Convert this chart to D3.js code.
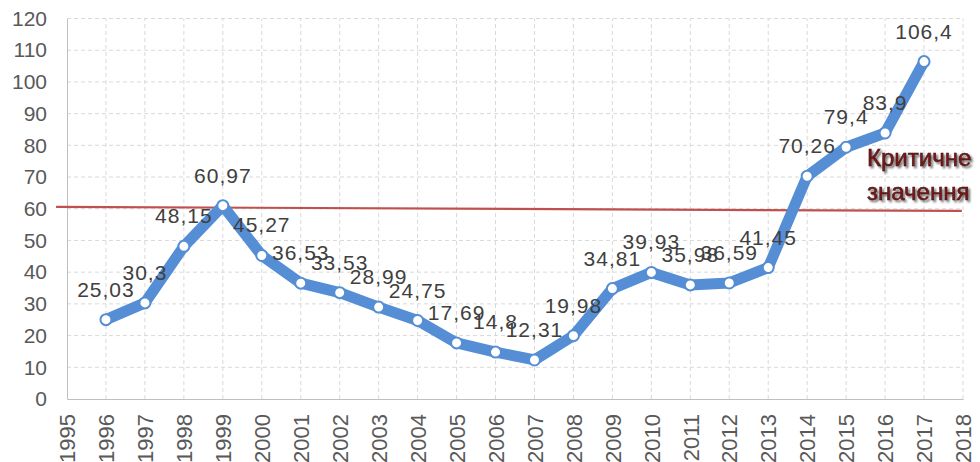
<!DOCTYPE html>
<html><head><meta charset="utf-8">
<script src="https://cdn.jsdelivr.net/npm/d3@7"></script>
<style>body{margin:0;background:#fff}svg{display:block}</style>
</head><body>
<svg id="c" width="980" height="462"></svg>
<script>
const years = [1996,1997,1998,1999,2000,2001,2002,2003,2004,2005,2006,2007,2008,2009,2010,2011,2012,2013,2014,2015,2016,2017];
const values = [25.03,30.3,48.15,60.97,45.27,36.53,33.53,28.99,24.75,17.69,14.8,12.31,19.98,34.81,39.93,35.98,36.59,41.45,70.26,79.4,83.9,106.4];
const labels = ["25,03","30,3","48,15","60,97","45,27","36,53","33,53","28,99","24,75","17,69","14,8","12,31","19,98","34,81","39,93","35,98","36,59","41,45","70,26","79,4","83,9","106,4"];
const xTicks = d3.range(1995, 2019);
const yTicks = [0,10,20,30,40,50,60,70,80,90,100,110,120];
const critX = [1994.72, 2017.97];
const critY = [60.6, 59.3];
const critText = ["Критичне","значення"];

const svg = d3.select("#c");
const x = d3.scaleLinear().domain([1995, 2018]).range([67, 963]);
const y = d3.scaleLinear().domain([0, 120]).range([399, 18.5]);
const font = "'Liberation Sans', Arial, sans-serif";

// gridlines
svg.append("g").selectAll("line").data(yTicks.filter(d=>d>0)).join("line")
  .attr("x1", x(1995)).attr("x2", x(2018)).attr("y1", d=>y(d)).attr("y2", d=>y(d))
  .attr("stroke", "#d9d9d9").attr("stroke-width", 1).attr("stroke-dasharray", "4,3");
svg.append("g").selectAll("line").data(xTicks.filter(d=>d>1995)).join("line")
  .attr("x1", d=>x(d)).attr("x2", d=>x(d)).attr("y1", y(0)).attr("y2", y(120))
  .attr("stroke", "#d9d9d9").attr("stroke-width", 1).attr("stroke-dasharray", "4,3");

// axes
const yAxis = d3.axisLeft(y).tickValues(yTicks).tickSize(0).tickPadding(20);
const gy = svg.append("g").attr("transform", `translate(${x(1995)},0)`).call(yAxis);
gy.select(".domain").attr("stroke", "#bfbfbf");
gy.selectAll("text").attr("font-family", font).attr("font-size", 21).attr("fill", "#595959");

const xAxis = d3.axisBottom(x).tickValues(xTicks).tickFormat(d3.format("d")).tickSize(0);
const gx = svg.append("g").attr("transform", `translate(0,${y(0)})`).call(xAxis);
gx.select(".domain").attr("stroke", "#bfbfbf");
gx.selectAll("text").attr("font-family", font).attr("font-size", 22).attr("fill", "#595959")
  .attr("text-anchor", "end").attr("dy", "0.35em")
  .attr("transform", "translate(0,15) rotate(-90)").attr("y", 0).attr("x", 0);

// critical line
const critData = critX.map((d,i)=>[d, critY[i]]);
svg.append("path").datum(critData)
  .attr("d", d3.line().x(d=>x(d[0])).y(d=>y(d[1])))
  .attr("stroke", "#c0504d").attr("stroke-width", 2.2).attr("fill", "none");

// data line
const data = years.map((d,i)=>({x:d, v:values[i], l:labels[i]}));
svg.append("path").datum(data)
  .attr("d", d3.line().x(d=>x(d.x)).y(d=>y(d.v)))
  .attr("stroke", "#558ed5").attr("stroke-width", 11).attr("fill", "none")
  .attr("stroke-linejoin", "round").attr("stroke-linecap", "round");
svg.append("g").selectAll("circle").data(data).join("circle")
  .attr("cx", d=>x(d.x)).attr("cy", d=>y(d.v)).attr("r", 5.5)
  .attr("fill", "#fff").attr("stroke", "#558ed5").attr("stroke-width", 2);

// labels
svg.append("g").selectAll("text").data(data).join("text")
  .attr("x", d=>x(d.x)).attr("y", d=>y(d.v) - 23)
  .attr("text-anchor", "middle")
  .attr("font-family", font).attr("font-size", 21).attr("letter-spacing", 1).attr("fill", "#404040")
  .text(d=>d.l);

// annotation
const defs = svg.append("defs");
const f = defs.append("filter").attr("id", "sh").attr("x", "-20%").attr("y", "-30%").attr("width", "140%").attr("height", "160%");
f.append("feGaussianBlur").attr("in", "SourceAlpha").attr("stdDeviation", 1.3).attr("result", "b");
f.append("feOffset").attr("in", "b").attr("dx", 1.5).attr("dy", 1.5).attr("result", "o");
f.append("feFlood").attr("flood-color", "#000").attr("flood-opacity", 0.6);
f.append("feComposite").attr("in2", "o").attr("operator", "in").attr("result", "s");
const m = f.append("feMerge");
m.append("feMergeNode").attr("in", "s");
m.append("feMergeNode").attr("in", "SourceGraphic");
svg.append("g").selectAll("text").data(critText).join("text")
  .attr("x", 867).attr("y", (d,i)=>166 + i*34)
  .attr("font-family", font).attr("font-size", 24)
  .attr("fill", "#7a1616").attr("stroke", "#3a0a0a").attr("stroke-width", 0.5)
  .attr("filter", "url(#sh)")
  .text(d=>d);
</script>
</body></html>
